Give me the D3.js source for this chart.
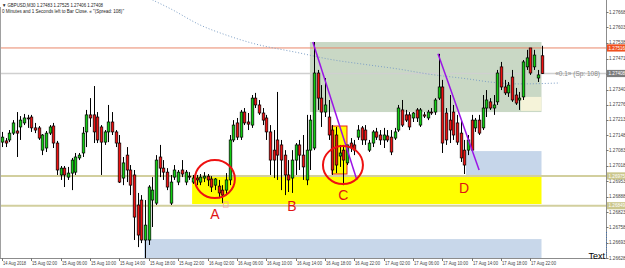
<!DOCTYPE html>
<html>
<head>
<meta charset="utf-8">
<script src="https://cdn.jsdelivr.net/npm/d3@7"></script>
<style>
html, body { margin: 0; padding: 0; background: #fff; }
svg { display: block; font-family: "Liberation Sans", Arial, sans-serif; }
.narrow { font-family: "Liberation Sans Narrow", "Arial Narrow", sans-serif; }
</style>
</head>
<body>
<div id="chart"></div>
<script>
// GBPUSD M30, bar 0 = 14 Aug 2018 22:00
var startTime = Date.UTC(2018, 7, 14, 22, 0);
var barMs = 30 * 60 * 1000;

// [open, high, low, close]
var candles = [
[1.27118,1.27161,1.27097,1.27139],[1.27123,1.27135,1.27097,1.27114],[1.27127,1.27169,1.27118,1.27156],[1.27156,1.27211,1.27148,1.27199],
[1.27165,1.27245,1.27055,1.27156],[1.27182,1.27228,1.27127,1.27211],[1.27199,1.27237,1.27190,1.27220],[1.27220,1.27233,1.27178,1.27216],
[1.27224,1.27233,1.27161,1.27178],[1.27178,1.27199,1.27156,1.27169],[1.27178,1.27186,1.27127,1.27135],[1.27084,1.27152,1.27063,1.27148],
[1.27093,1.27165,1.27076,1.27156],[1.27156,1.27190,1.27148,1.27182],[1.27186,1.27199,1.27093,1.27114],[1.27114,1.27123,1.26979,1.27000],
[1.26979,1.27017,1.26958,1.27008],[1.27008,1.27017,1.26928,1.26979],[1.26970,1.27013,1.26958,1.26987],[1.26987,1.27051,1.26915,1.27042],
[1.26991,1.27072,1.26979,1.27055],[1.27051,1.27072,1.27042,1.27063],[1.27072,1.27182,1.27055,1.27156],[1.27161,1.27254,1.27097,1.27233],
[1.27233,1.27304,1.27182,1.27220],[1.27233,1.27355,1.27114,1.27161],[1.27224,1.27245,1.27114,1.27127],[1.27182,1.27190,1.26979,1.27118],
[1.27118,1.27169,1.27106,1.27161],[1.27161,1.27275,1.27118,1.27203],[1.27203,1.27245,1.27148,1.27161],[1.27161,1.27169,1.27097,1.27114],
[1.27114,1.27148,1.26945,1.26949],[1.26966,1.27055,1.26936,1.27030],[1.27063,1.27097,1.26949,1.27000],[1.27000,1.27021,1.26894,1.26936],
[1.26979,1.27000,1.26704,1.26801],[1.26852,1.26903,1.26674,1.26725],[1.26873,1.26894,1.26691,1.26704],[1.26704,1.26873,1.26628,1.26767],
[1.26704,1.26936,1.26683,1.26928],[1.26873,1.26970,1.26759,1.26915],[1.26860,1.27063,1.26852,1.27042],[1.27055,1.27106,1.26970,1.27008],
[1.27008,1.27042,1.26958,1.26991],[1.26991,1.27008,1.26915,1.26928],[1.26860,1.26979,1.26852,1.26949],[1.26970,1.27021,1.26958,1.27000],
[1.26949,1.27000,1.26936,1.26991],[1.27000,1.27042,1.26970,1.26983],[1.26949,1.27000,1.26936,1.26991],[1.26974,1.26991,1.26958,1.26970],
[1.26949,1.26979,1.26941,1.26966],[1.26966,1.26979,1.26936,1.26958],[1.26949,1.26983,1.26936,1.26970],[1.26966,1.26991,1.26949,1.26974],
[1.26974,1.26983,1.26932,1.26958],[1.26962,1.26974,1.26907,1.26928],[1.26936,1.26966,1.26915,1.26962],[1.26932,1.26958,1.26881,1.26903],
[1.26915,1.26936,1.26860,1.26894],[1.26915,1.26987,1.26894,1.26958],[1.26958,1.27148,1.26936,1.27127],[1.27127,1.27211,1.27118,1.27190],
[1.27199,1.27220,1.27127,1.27139],[1.27139,1.27254,1.27127,1.27245],[1.27245,1.27262,1.27190,1.27199],[1.27203,1.27241,1.27169,1.27194],
[1.27190,1.27317,1.27178,1.27304],[1.27304,1.27326,1.27262,1.27275],[1.27275,1.27296,1.27233,1.27241],[1.27241,1.27262,1.27190,1.27211],
[1.27220,1.27233,1.27127,1.27161],[1.27161,1.27190,1.26979,1.27042],[1.27084,1.27169,1.26966,1.27042],[1.27127,1.27330,1.26958,1.27063],
[1.27106,1.27127,1.26915,1.27042],[1.27063,1.27084,1.26894,1.26979],[1.26979,1.27042,1.26907,1.26958],[1.26966,1.27084,1.26903,1.27042],
[1.27042,1.27114,1.26979,1.27106],[1.27106,1.27127,1.27000,1.27063],[1.27063,1.27148,1.26958,1.27013],[1.26958,1.27233,1.26936,1.27084],
[1.27084,1.27233,1.27000,1.27211],[1.27093,1.27541,1.27084,1.27410],[1.27410,1.27423,1.27254,1.27304],[1.27304,1.27359,1.27182,1.27245],
[1.27245,1.27389,1.27224,1.27275],[1.27224,1.27296,1.27127,1.27148],[1.27169,1.27190,1.26979,1.27000],[1.27148,1.27182,1.26987,1.27021],
[1.27059,1.27106,1.27013,1.27072],[1.27084,1.27106,1.26936,1.27042],[1.27030,1.27106,1.27021,1.27106],[1.27114,1.27135,1.27076,1.27093],
[1.27106,1.27127,1.27063,1.27084],[1.27139,1.27190,1.27127,1.27169],[1.27178,1.27186,1.27106,1.27127],[1.27169,1.27190,1.27106,1.27127],
[1.27084,1.27127,1.27076,1.27114],[1.27114,1.27169,1.27097,1.27161],[1.27161,1.27178,1.27127,1.27139],[1.27148,1.27169,1.27106,1.27127],
[1.27127,1.27178,1.27093,1.27148],[1.27144,1.27169,1.27118,1.27127],[1.27139,1.27169,1.27063,1.27076],[1.27135,1.27178,1.27127,1.27161],
[1.27169,1.27275,1.27161,1.27262],[1.27254,1.27296,1.27182,1.27190],[1.27233,1.27254,1.27203,1.27211],[1.27233,1.27245,1.27169,1.27182],
[1.27220,1.27245,1.27203,1.27241],[1.27254,1.27262,1.27203,1.27220],[1.27190,1.27262,1.27182,1.27254],[1.27233,1.27245,1.27220,1.27228],
[1.27220,1.27254,1.27211,1.27245],[1.27245,1.27262,1.27233,1.27241],[1.27245,1.27304,1.27233,1.27296],[1.27304,1.27491,1.27296,1.27351],
[1.27351,1.27381,1.27072,1.27114],[1.27241,1.27262,1.27106,1.27127],[1.27211,1.27317,1.27114,1.27169],[1.27245,1.27275,1.27127,1.27148],
[1.27199,1.27233,1.27106,1.27118],[1.27156,1.27211,1.27034,1.27051],[1.27084,1.27127,1.26983,1.27021],[1.27084,1.27148,1.27063,1.27127],
[1.27211,1.27233,1.27076,1.27084],[1.27178,1.27220,1.27161,1.27211],[1.27211,1.27233,1.27148,1.27156],[1.27178,1.27317,1.27169,1.27262],
[1.27262,1.27338,1.27224,1.27296],[1.27288,1.27304,1.27254,1.27262],[1.27262,1.27317,1.27233,1.27275],[1.27288,1.27423,1.27275,1.27410],
[1.27436,1.27457,1.27338,1.27351],[1.27351,1.27381,1.27317,1.27326],[1.27326,1.27372,1.27309,1.27359],[1.27393,1.27423,1.27288,1.27296],
[1.27317,1.27347,1.27275,1.27283],[1.27296,1.27330,1.27254,1.27304],[1.27309,1.27465,1.27296,1.27457],[1.27436,1.27508,1.27423,1.27474],
[1.27516,1.27516,1.27402,1.27410],[1.27436,1.27508,1.27423,1.27486],[1.27389,1.27423,1.27372,1.27402],[1.27483,1.27525,1.27406,1.27408]
];

// time axis labels, one every 8 bars
var timeLabels = ["14 Aug 2018","15 Aug 02:00","15 Aug 06:00","15 Aug 10:00","15 Aug 14:00","15 Aug 18:00",
  "15 Aug 22:00","16 Aug 02:00","16 Aug 06:00","16 Aug 10:00","16 Aug 14:00","16 Aug 18:00","16 Aug 22:00",
  "17 Aug 02:00","17 Aug 06:00","17 Aug 10:00","17 Aug 14:00","17 Aug 18:00","17 Aug 22:00"];

// price scale labels
var priceTicks = [1.26628,1.26693,1.26758,1.26823,1.26888,1.26953,1.27018,1.27083,1.27148,
  1.27213,1.27276,1.27340,1.27406,1.27471,1.27538,1.27603,1.27668];

// moving average (dotted), bar index -> value
var maBars = [41, 46, 54, 61, 68, 81, 89, 100, 108, 116, 127, 133, 141, 152];
var maVals = [1.27719,1.27681,1.27613,1.27571,1.27537,1.27495,1.27469,1.27444,1.27427,1.27406,1.27385,1.27372,1.27364,1.27368];

// rectangle objects: from bar, to bar, top price, bottom price
var zoneFrom = [83.9, 141.4, 126.4, 38.7, 51.8];
var zoneTo = [147, 147, 147, 147, 147];
var zoneTop = [1.27541, 1.27309, 1.27080, 1.26708, 1.26979];
var zoneBottom = [1.27245, 1.27250, 1.26979, 1.26590, 1.26856];
var zoneColor = ["#c9d8c5", "#f5f3d9", "#c6d6ea", "#c8d7ea", "#ffff00"];

// small box at C
var boxFrom = 89.9, boxTo = 94.0, boxTop = 1.27186, boxBottom = 1.26983;

// horizontal lines
var redLevel = 1.27516, bidLevel = 1.27408;
var khakiLevels = [1.26975, 1.26849];

// trend lines: [bar, price] -> [bar, price]
var trendLines = [
  [[84.7, 1.27541], [96.7, 1.26958]],
  [[118.8, 1.27491], [130.0, 1.27000]]
];

// circles and letters
var circleBars = [58.0, 92.9], circlePrices = [1.26962, 1.27021];
var letters = ["A", "B", "C", "D"];
var letterBars = [58.0, 79.0, 93.0, 125.9];
var letterPrices = [1.26793, 1.26826, 1.26873, 1.26903];

var svgWidth = 625, svgHeight = 268;
var plotRight = 606, plotBottom = 258;

var svg = d3.select("#chart").append("svg")
  .attr("width", svgWidth)
  .attr("height", svgHeight);

var tAt = function(i) { return new Date(startTime + i * barMs); };

var x = d3.scaleTime()
  .domain([tAt(0), tAt(147)])
  .range([2, 541.5]);

var y = d3.scaleLinear()
  .domain([1.26628, 1.27668])
  .range([258, 12]);

svg.append("clipPath").attr("id", "plotClip")
  .append("rect").attr("x", 0).attr("y", 0).attr("width", plotRight).attr("height", plotBottom);

var plot = svg.append("g").attr("clip-path", "url(#plotClip)");

// zones
plot.selectAll(".zone")
  .data(zoneFrom)
  .enter()
  .append("rect")
  .attr("x", (d, i) => x(tAt(d)))
  .attr("y", (d, i) => y(zoneTop[i]))
  .attr("width", (d, i) => x(tAt(zoneTo[i])) - x(tAt(d)))
  .attr("height", (d, i) => y(zoneBottom[i]) - y(zoneTop[i]))
  .attr("fill", (d, i) => zoneColor[i]);

// small yellow box
plot.append("rect")
  .attr("x", x(tAt(boxFrom)))
  .attr("y", y(boxTop))
  .attr("width", x(tAt(boxTo)) - x(tAt(boxFrom)))
  .attr("height", y(boxBottom) - y(boxTop))
  .attr("fill", "#ffff00")
  .attr("stroke", "#e8201a")
  .attr("stroke-width", 1);

// horizontal levels
plot.selectAll(".khaki")
  .data(khakiLevels)
  .enter()
  .append("line")
  .attr("x1", 0).attr("x2", plotRight)
  .attr("y1", d => y(d)).attr("y2", d => y(d))
  .attr("stroke", "#d2cf9e")
  .attr("stroke-width", 2);

plot.append("line")
  .attr("x1", 0).attr("x2", plotRight)
  .attr("y1", y(bidLevel)).attr("y2", y(bidLevel))
  .attr("stroke", "#d0d0d0").attr("stroke-width", 1.5);

plot.append("line")
  .attr("x1", 0).attr("x2", plotRight)
  .attr("y1", y(redLevel)).attr("y2", y(redLevel))
  .attr("stroke", "#e9876a").attr("stroke-width", 1);

// moving average
var maLine = d3.line()
  .x((d, i) => x(tAt(d)))
  .y((d, i) => y(maVals[i]))
  .curve(d3.curveMonotoneX);

plot.append("path")
  .attr("d", maLine(maBars))
  .attr("fill", "none")
  .attr("stroke", "#7d9fc6")
  .attr("stroke-width", 1)
  .attr("stroke-dasharray", "1,2");

// candles
var candleGroup = plot.selectAll(".candle")
  .data(candles)
  .enter()
  .append("g");

candleGroup.append("line")
  .attr("x1", (d, i) => Math.round(x(tAt(i))) + 0.5)
  .attr("x2", (d, i) => Math.round(x(tAt(i))) + 0.5)
  .attr("y1", d => y(d[1]))
  .attr("y2", d => y(d[2]))
  .attr("stroke", "#000")
  .attr("stroke-width", 1);

candleGroup.append("rect")
  .attr("x", (d, i) => Math.round(x(tAt(i))) - 0.8)
  .attr("y", d => y(Math.max(d[0], d[3])))
  .attr("width", 2.6)
  .attr("height", d => Math.max(0.8, Math.abs(y(d[0]) - y(d[3]))))
  .attr("fill", d => d[3] >= d[0] ? "#11cc11" : "#ee1111")
  .attr("stroke", "#000")
  .attr("stroke-width", 0.7);

// trend lines
plot.selectAll(".trend")
  .data(trendLines)
  .enter()
  .append("line")
  .attr("x1", d => x(tAt(d[0][0]))).attr("y1", d => y(d[0][1]))
  .attr("x2", d => x(tAt(d[1][0]))).attr("y2", d => y(d[1][1]))
  .attr("stroke", "#9b14e6")
  .attr("stroke-width", 1.5);

// circles
plot.selectAll(".ring")
  .data(circleBars)
  .enter()
  .append("ellipse")
  .attr("cx", d => x(tAt(d)))
  .attr("cy", (d, i) => y(circlePrices[i]))
  .attr("rx", 20).attr("ry", 19)
  .attr("fill", "none")
  .attr("stroke", "#ee1111")
  .attr("stroke-width", 2);

// tiny marker near A
plot.append("rect")
  .attr("x", x(tAt(60.3))).attr("y", y(1.26865))
  .attr("width", x(tAt(61.6)) - x(tAt(60.3)))
  .attr("height", y(1.26843) - y(1.26865))
  .attr("fill", "none")
  .attr("stroke", "#f2a0a0")
  .attr("stroke-width", 0.8);

plot.selectAll(".letter")
  .data(letters)
  .enter()
  .append("text")
  .attr("x", (d, i) => x(tAt(letterBars[i])))
  .attr("y", (d, i) => y(letterPrices[i]))
  .attr("text-anchor", "middle")
  .attr("fill", "#e01414")
  .style("font-size", "14px")
  .text(d => d);

// axes frame
svg.append("line").attr("x1", plotRight + 0.5).attr("x2", plotRight + 0.5)
  .attr("y1", 0).attr("y2", plotBottom).attr("stroke", "#8c8c8c");
svg.append("line").attr("x1", 0).attr("x2", plotRight + 1)
  .attr("y1", plotBottom + 0.5).attr("y2", plotBottom + 0.5).attr("stroke", "#8c8c8c");
svg.append("line").attr("x1", 0.5).attr("x2", 0.5)
  .attr("y1", 7).attr("y2", plotBottom).attr("stroke", "#a0a0a0");

// short dotted piece on the right scale
svg.append("line").attr("x1", plotRight + 0.5).attr("x2", plotRight + 0.5)
  .attr("y1", 232).attr("y2", 257)
  .attr("stroke", "#3d6fb0").attr("stroke-dasharray", "1,1.5");

// price scale
var priceAxis = svg.append("g");
priceTicks.forEach(function(p) {
  priceAxis.append("line")
    .attr("x1", plotRight).attr("x2", plotRight + 2.5)
    .attr("y1", Math.round(y(p)) + 0.5).attr("y2", Math.round(y(p)) + 0.5)
    .attr("stroke", "#777");
  priceAxis.append("text")
    .attr("class", "narrow")
    .attr("x", plotRight + 3)
    .attr("y", y(p) + 1.7)
    .attr("fill", "#444")
    .style("font-size", "4.6px")
    .text(p.toFixed(5));
});

// price tags on the scale
function priceTag(p, fill, label) {
  priceAxis.append("rect")
    .attr("x", plotRight + 1).attr("y", y(p) - 3.6)
    .attr("width", 18).attr("height", 7.2)
    .attr("fill", fill);
  priceAxis.append("text")
    .attr("class", "narrow")
    .attr("x", plotRight + 2.5).attr("y", y(p) + 1.7)
    .attr("fill", "#fff")
    .style("font-size", "4.6px")
    .text(label);
}
priceTag(redLevel, "#f0501e", redLevel.toFixed(5));
priceTag(bidLevel, "#7c7c7c", bidLevel.toFixed(5));
khakiLevels.forEach(p => priceTag(p, "#cbc78d", p.toFixed(5)));

// time scale
var timeAxis = svg.append("g");
timeLabels.forEach(function(lbl, k) {
  var tx = Math.round(x(tAt(k * 8))) + 0.5;
  timeAxis.append("line")
    .attr("x1", tx).attr("x2", tx)
    .attr("y1", plotBottom).attr("y2", plotBottom + 3)
    .attr("stroke", "#777");
  timeAxis.append("text")
    .attr("x", tx + 0.5)
    .attr("y", 265)
    .attr("fill", "#444")
    .style("font-size", "4.6px")
    .attr("textLength", k === 0 ? 23 : 25)
    .attr("lengthAdjust", "spacingAndGlyphs")
    .text(lbl);
});

// header text
svg.append("text").attr("x", 2).attr("y", 6.5)
  .style("font-size", "5px").attr("fill", "#222")
  .attr("textLength", 101).attr("lengthAdjust", "spacingAndGlyphs")
  .text("\u25BC GBPUSD,M30  1.27483 1.27525 1.27406 1.27408");
svg.append("text").attr("x", 2).attr("y", 12.5)
  .style("font-size", "5px").attr("fill", "#222")
  .attr("textLength", 122).attr("lengthAdjust", "spacingAndGlyphs")
  .text("0 Minutes and 1 Seconds left to Bar Close. \u00AB \"(Spread: 108)\"");

// spread text near price
svg.append("text").attr("x", 600).attr("y", y(bidLevel) + 2.5)
  .attr("text-anchor", "end")
  .style("font-size", "6.5px").attr("fill", "#888")
  .text("\u00AB0.1\u00BB (Sp: 108)");

svg.append("text").attr("x", plotRight - 1).attr("y", 259)
  .attr("text-anchor", "end")
  .style("font-size", "9px").attr("fill", "#000")
  .text("Text");
</script>
</body>
</html>
